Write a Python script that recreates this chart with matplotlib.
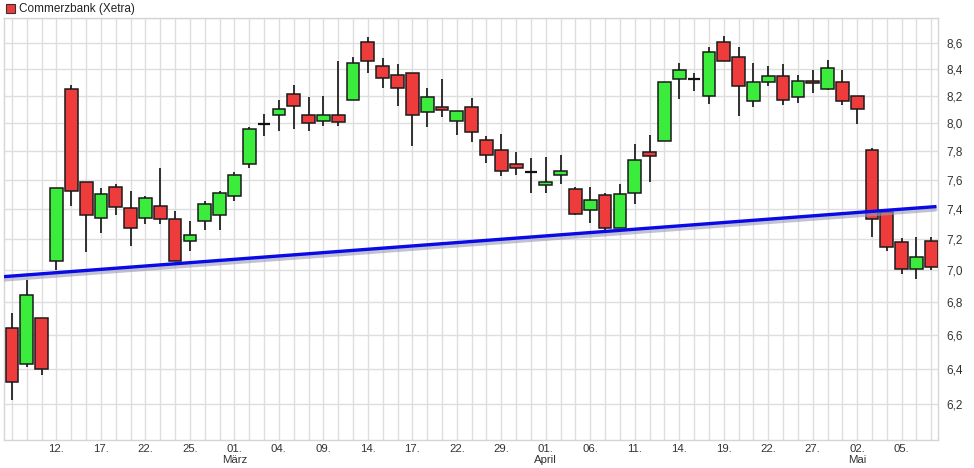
import matplotlib
matplotlib.use("Agg")
import matplotlib.pyplot as plt
from matplotlib.patches import Rectangle
from matplotlib.ticker import FixedLocator, NullLocator
import numpy as np

plt.rcParams['font.family'] = ['Liberation Sans', 'DejaVu Sans']

# Trading days Feb 9 2016 - May 9 2016 (Xetra)
dates = ["09.02", "10.02", "11.02", "12.02", "15.02", "16.02", "17.02", "18.02", "19.02",
         "22.02", "23.02", "24.02", "25.02", "26.02", "29.02",
         "01.03", "02.03", "03.03", "04.03", "07.03", "08.03", "09.03", "10.03", "11.03",
         "14.03", "15.03", "16.03", "17.03", "18.03", "21.03", "22.03", "23.03", "24.03",
         "29.03", "30.03", "31.03",
         "01.04", "04.04", "05.04", "06.04", "07.04", "08.04", "11.04", "12.04", "13.04",
         "14.04", "15.04", "18.04", "19.04", "20.04", "21.04", "22.04", "25.04", "26.04",
         "27.04", "28.04", "29.04",
         "02.05", "03.05", "04.05", "05.05", "06.05", "09.05"]

opens = [6.643, 6.430, 6.704, 7.060, 8.248, 7.586, 7.342, 7.552, 7.403,
         7.342, 7.423, 7.335, 7.186, 7.322, 7.362,
         7.484, 7.705, 7.990, 8.056, 8.210, 8.056, 8.012, 8.056, 8.166,
         8.608, 8.423, 8.354, 8.369, 8.077, 8.120, 8.012, 8.120, 7.875,
         7.803, 7.705, 7.649,
         7.559, 7.628, 7.538, 7.396, 7.491, 7.276, 7.511, 7.790, 7.867,
         8.323, 8.323, 8.196, 8.608, 8.496, 8.159, 8.301, 8.346, 8.188,
         8.309, 8.248, 8.301,
         8.196, 7.810, 7.382, 7.184, 7.010, 7.190]

closes = [6.325, 6.846, 6.400, 7.545, 7.518, 7.362, 7.504, 7.416, 7.276,
          7.477, 7.335, 7.060, 7.225, 7.436, 7.511,
          7.628, 7.954, 7.990, 8.100, 8.122, 7.997, 8.056, 8.004, 8.446,
          8.461, 8.331, 8.256, 8.056, 8.188, 8.092, 8.085, 7.932, 7.768,
          7.656, 7.677, 7.649,
          7.586, 7.656, 7.369, 7.463, 7.276, 7.504, 7.733, 7.761, 8.301,
          8.392, 8.323, 8.531, 8.461, 8.271, 8.301, 8.346, 8.166, 8.309,
          8.293, 8.407, 8.159,
          8.100, 7.335, 7.151, 7.010, 7.087, 7.022]

highs = [6.734, 6.940, 6.704, 7.545, 8.278, 7.586, 7.545, 7.566, 7.518,
         7.490, 7.677, 7.389, 7.322, 7.450, 7.520,
         7.649, 7.970, 8.063, 8.166, 8.278, 8.188, 8.196, 8.461, 8.491,
         8.648, 8.490, 8.438, 8.375, 8.256, 8.323, 8.090, 8.181, 7.904,
         7.918, 7.789, 7.747,
         7.754, 7.768, 7.550, 7.552, 7.510, 7.566, 7.846, 7.910, 8.301,
         8.446, 8.369, 8.570, 8.656, 8.570, 8.446, 8.423, 8.438, 8.360,
         8.392, 8.468, 8.392,
         8.200, 7.824, 7.390, 7.210, 7.217, 7.215]

lows = [6.223, 6.410, 6.366, 7.003, 7.423, 7.118, 7.243, 7.362, 7.158,
        7.302, 7.300, 7.060, 7.125, 7.263, 7.260,
        7.450, 7.680, 7.904, 7.939, 7.960, 7.940, 7.975, 7.975, 8.166,
        8.369, 8.256, 8.122, 7.832, 7.970, 8.041, 7.910, 7.860, 7.718,
        7.621, 7.628, 7.511,
        7.510, 7.566, 7.362, 7.309, 7.263, 7.276, 7.436, 7.586, 7.867,
        8.180, 8.233, 8.136, 8.461, 8.050, 8.114, 8.270, 8.130, 8.145,
        8.219, 8.240, 8.130,
        7.990, 7.217, 7.125, 6.978, 6.946, 7.000]

# Trend line (start / end price at left and right edges)
trend_x = [-0.54, 62.35]
trend_y = [6.959, 7.416]

# x tick labels (every 3rd trading day starting Feb 12)
xtick_labels = ["12.", "17.", "22.", "25.", "01.", "04.", "09.", "14.", "17.", "22.",
                "29.", "01.", "06.", "11.", "14.", "19.", "22.", "27.", "02.", "05."]
month_labels = {"01.03": "März", "01.04": "April", "02.05": "Mai"}

ytick_values = [6.2, 6.4, 6.6, 6.8, 7.0, 7.2, 7.4, 7.6, 7.8, 8.0, 8.2, 8.4, 8.6]

W, H = 974, 468
fig = plt.figure(figsize=(W / 100, H / 100), dpi=100)
ax = fig.add_axes([4 / W, 1 - 440 / H, (938 - 4) / W, (440 - 18) / H])

ax.set_yscale('log')
ax.set_ylim(6.0, 8.8)
ax.set_xlim(-0.54, 62.45)

n = len(dates)
xs = np.arange(n)

grid_col = '#dedede'
for x in xs:
    ax.axvline(x, color=grid_col, lw=1.0, zorder=0)
for y in ytick_values + [8.8]:
    ax.axhline(y, color=grid_col, lw=1.0, zorder=0)

red = '#ee3c3c'
green = '#3cec3c'
bw = 0.86
for i in range(n):
    o, c, h, l = opens[i], closes[i], highs[i], lows[i]
    ax.plot([i, i], [l, h], color='#222222', lw=1.3, zorder=2, solid_capstyle='butt')
    top, bot = max(o, c), min(o, c)
    if abs(top - bot) < 0.008:
        ax.plot([i - bw / 2, i + bw / 2], [o, o], color='#111111', lw=1.6, zorder=3,
                solid_capstyle='butt')
    else:
        col = green if c > o else red
        ax.add_patch(Rectangle((i - bw / 2, bot), bw, top - bot, facecolor=col,
                               edgecolor='#1a1a1a', lw=1.1, zorder=3))

# trend line with soft shadow
ax.plot(trend_x, [v * 0.9975 for v in trend_y], color='#9a9ab8', lw=3.2, alpha=0.6,
        zorder=4, solid_capstyle='butt')
ax.plot(trend_x, trend_y, color='#0a0ae6', lw=2.4, zorder=5, solid_capstyle='butt')

# axes formatting
ax.yaxis.set_major_locator(FixedLocator(ytick_values))
ax.yaxis.set_minor_locator(NullLocator())
ax.set_yticklabels([f"{v:.1f}".replace('.', ',') for v in ytick_values])
ax.yaxis.tick_right()
ax.tick_params(axis='y', length=0, pad=6, labelsize=8.5, colors='#333333')

tick_pos = list(range(3, n, 3))[:len(xtick_labels)]
labels = []
for p, lab in zip(tick_pos, xtick_labels):
    if dates[p] in month_labels:
        labels.append(lab + "\n" + month_labels[dates[p]])
    else:
        labels.append(lab)
ax.xaxis.set_major_locator(FixedLocator(tick_pos))
ax.set_xticklabels(labels, linespacing=1.05)
ax.tick_params(axis='x', length=0, pad=3, labelsize=8.2, colors='#333333')

for s in ax.spines.values():
    s.set_color('#d6d6d6')
    s.set_linewidth(1.0)

# header legend
fig.patches.append(Rectangle((6 / W, 1 - 13 / H), 9 / W, 9 / H, transform=fig.transFigure,
                             facecolor=red, edgecolor='#333333', lw=0.8))
fig.text(19 / W, 1 - 9 / H, "Commerzbank (Xetra)", fontsize=8.5, va='center', ha='left',
         color='#222222')

fig.savefig("out.png", dpi=100)
